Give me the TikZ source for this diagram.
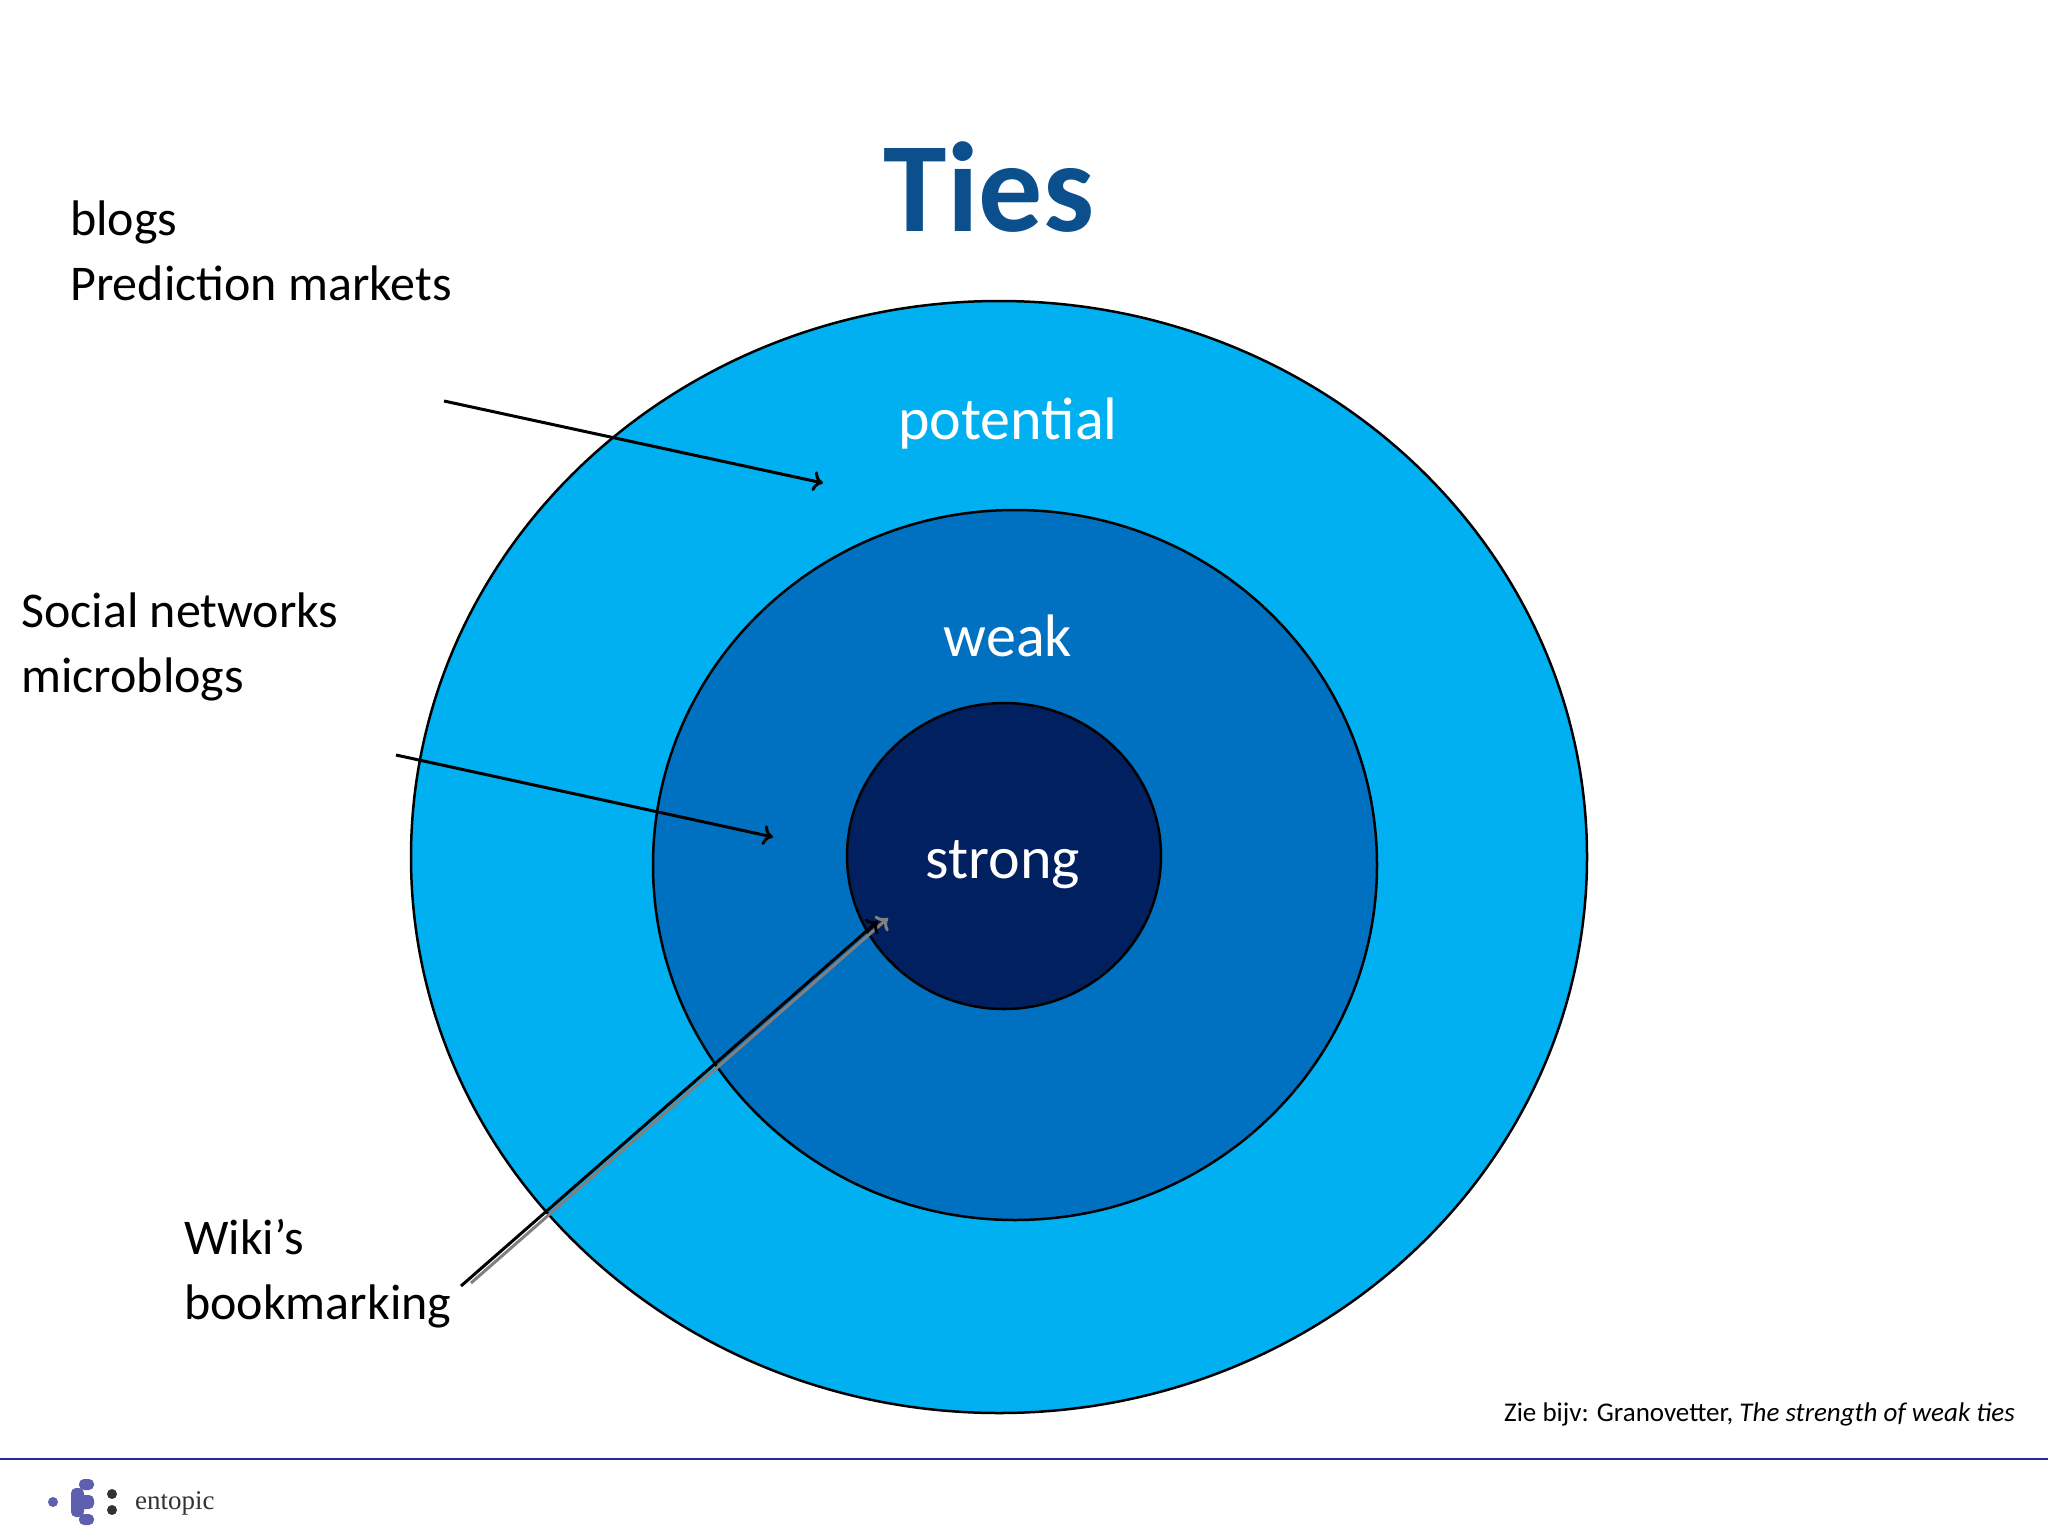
\documentclass[tikz,border=0pt]{standalone}
\usepackage{fontspec}
\usetikzlibrary{arrows.meta}
\setmainfont{Carlito}
\definecolor{titleblue}{RGB}{11,79,140}
\definecolor{c1}{RGB}{0,176,240}
\definecolor{c2}{RGB}{0,112,192}
\definecolor{c3}{RGB}{0,32,96}
\definecolor{rule}{RGB}{40,40,160}
\definecolor{logo}{RGB}{95,95,175}
\begin{document}
\begin{tikzpicture}[x=1pt,y=-1pt,
 ring/.style={draw=black,line width=2.5pt},
 lbl/.style={font=\fontsize{50}{65}\selectfont,align=left,anchor=base west,inner sep=0},
 inl/.style={text=white,font=\fontsize{60}{70}\selectfont},
 arr/.style={line width=3pt,-{To[length=10pt,width=20pt]}}]
\useasboundingbox (0,0) rectangle (2048,1536);
\fill[white] (0,0) rectangle (2048,1536);
\node[text=titleblue,font=\bfseries\fontsize{128}{130}\selectfont] (title) at (989,187) {Ties};
\draw[ring,fill=c1] (999,857) ellipse [x radius=588,y radius=556];
\draw[ring,fill=c2] (1015,865) ellipse [x radius=362,y radius=355];
\draw[ring,fill=c3] (1004,856) ellipse [x radius=157,y radius=153];
\node[inl] (pot) at (1008,424) {potential};
\node[inl] (weak) at (1008,636) {weak};
\node[inl] (strong) at (1003,865) {strong};
\node[lbl] (blogs) at (70,300) {blogs\\Prediction markets};
\node[lbl] (soc) at (21,692) {Social networks\\microblogs};
\node[lbl] (wiki) at (184,1319) {Wiki’s\\bookmarking};
\coordinate (a1s) at (444,401); \coordinate (a1e) at (823,483);
\coordinate (a2s) at (396,755); \coordinate (a2e) at (773,837);
\coordinate (a3s) at (461,1286); \coordinate (a3e) at (878,921);
\draw[arr,gray] ([xshift=10pt,yshift=3pt]a3s) -- ([xshift=10pt,yshift=3pt]a3e);
\draw[arr] (a1s) -- (a1e);
\draw[arr] (a2s) -- (a2e);
\draw[arr] (a3s) -- (a3e);
\node[anchor=base east,inner sep=0,font=\fontsize{27}{30}\selectfont] (ref) at (2015,1421) {Zie bijv: Granovetter, \textit{The strength of weak ties}};
\draw[line width=2pt,rule] (0,1459) coordinate (l1) -- (2048,1459) coordinate (l2);
% logo
\fill[logo] (53,1502) circle (5);
\fill[logo, rounded corners=5pt] (72,1495) rectangle (94,1509);
\fill[logo, rounded corners=5pt] (71,1488) rectangle (84,1517);
\fill[logo, rounded corners=5pt] (79,1479) rectangle (94,1490);
\fill[logo, rounded corners=5pt] (79,1514) rectangle (94,1525);
\fill[black!80] (112,1494) circle (5); \fill[black!80] (112,1510) circle (5);
\node[anchor=base west,inner sep=0,font=\fontspec{Liberation Serif}\fontsize{27}{30}\selectfont,text=black!80] (ent) at (135,1509) {entopic};
\end{tikzpicture}
\end{document}
